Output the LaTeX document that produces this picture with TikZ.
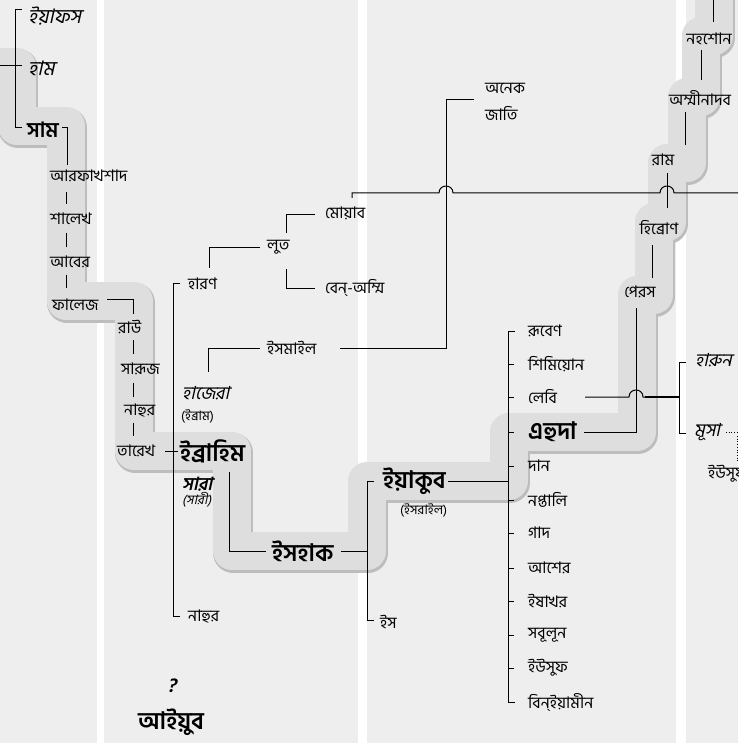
\documentclass[tikz,border=0pt]{standalone}
\usepackage{fontspec}
\setmainfont{Hind Siliguri}[Script=Bengali]
\newfontfamily\bnit{Hind Siliguri}[Script=Bengali,FakeSlant=0.22]
\definecolor{bgc}{gray}{0.935}
\definecolor{bandc}{gray}{0.87}
\definecolor{bande}{gray}{0.74}
\newcommand{\fsn}{\fontsize{16}{18}\selectfont}
\newcommand{\fsb}{\fontsize{24}{27}\selectfont\bfseries}
\newcommand{\fss}{\fontsize{13}{15}\selectfont}
\newcommand{\fsm}{\fontsize{18}{20}\selectfont}
\newcommand{\fsl}{\fontsize{20}{22}\selectfont}
\tikzset{
  lbl/.style={inner sep=0pt, anchor=west, font=\fsn},
  big/.style={inner sep=0pt, anchor=west, font=\fsb},
  sml/.style={inner sep=0pt, anchor=west, font=\fss},
  itl/.style={inner sep=0pt, anchor=west, font=\fsm\bnit},
  ctr/.style={inner sep=0pt, font=\fsn},
  ln/.style={draw=black, line width=1pt},
  bandpath/.style={line width=38pt, line join=round, draw=bandc},
}
\begin{document}
\begin{tikzpicture}[x=1pt,y=-1pt]
\useasboundingbox (0,0) rectangle (738,743);
\fill[bgc] (0,0) rectangle (738,743);
\fill[white] (97,0) rectangle (104,743);
\fill[white] (358,0) rectangle (367,743);
\fill[white] (676,0) rectangle (686,743);
\clip (0,0) rectangle (738,743);
% lineage band
\draw[line width=40pt, line join=round, draw=bande, shift={(1.2,1.6)}]
 (-30,67) -- (17,67) -- (17,126) -- (66,126) -- (66,301) -- (134,301) -- (134,451) -- (232,451) -- (232,551) -- (367,551) -- (367,481) -- (509,481) -- (509,432) -- (637,432) -- (637,295) -- (654,295) -- (654,222) -- (667,222) -- (667,163) -- (687,163) -- (687,97) -- (701,97) -- (701,36) -- (714,36) -- (714,-30);
\draw[bandpath]
 (-30,67) -- (17,67) -- (17,126) -- (66,126) -- (66,301) -- (134,301) -- (134,451) -- (232,451) -- (232,551) -- (367,551) -- (367,481) -- (509,481) -- (509,432) -- (637,432) -- (637,295) -- (654,295) -- (654,222) -- (667,222) -- (667,163) -- (687,163) -- (687,97) -- (701,97) -- (701,36) -- (714,36) -- (714,-30);

% left lineage
\node[itl,font=\fsl\bnit] (yafes) at (28,16) {ইয়াফস};
\node[itl,font=\fsl\bnit] (ham) at (28,68) {হাম};
\node[big,font=\fontsize{21}{23}\selectfont\bfseries] (sam) at (27,130) {সাম};
\node[lbl] (arf) at (50,176) {আরফাখশাদ};
\node[lbl] (shalekh) at (50,219) {শালেখ};
\node[lbl] (aber) at (50,262) {আবের};
\node[lbl] (falej) at (52,305) {ফালেজ};
\node[lbl] (rau) at (118,327) {রাউ};
\node[lbl] (saruj) at (121,369) {সারূজ};
\node[lbl] (nahur) at (124,410) {নাহুর};
\node[lbl] (tarekh) at (117,451) {তারেখ};
\node[big] (ibrahim) at (180,451) {ইব্রাহিম};
\node[lbl] (haran) at (188,284) {হারণ};
\node[lbl] (lut) at (267,247) {লুত};
\node[lbl] (moab) at (325,213) {মোয়াব};
\node[lbl] (benammi) at (325,288) {বেন্‌-অম্মি};
\node[lbl] (ismail) at (267,348) {ইসমাইল};
\node[itl] (hajera) at (182,393) {হাজেরা};
\node[sml] (ibram) at (181,416) {(ইব্রাম)};
\node[itl,font=\fsm\bnit\bfseries] (sara) at (182,484) {সারা};
\node[sml,font=\fss\bnit] (sari) at (182,500) {(সারী)};
\node[lbl] (nahur2) at (188,616) {নাহুর};
\node[big] (ishak) at (272,551) {ইসহাক};
\node[big] (yakub) at (383,481) {ইয়াকুব};
\node[sml] (israil) at (400,510) {(ইসরাইল)};
\node[lbl] (is) at (380,622) {ইস};
\node[lbl] (anek) at (485,88) {অনেক};
\node[lbl] (jati) at (485,113) {জাতি};
\node[itl,font=\fontsize{20}{22}\selectfont\bnit\bfseries] (q) at (167,686) {?};
\node[big] (aiyub) at (138,722) {আইয়ুব};

% twelve sons
\node[lbl] (s1) at (528,331) {রূবেণ};
\node[lbl] (s2) at (528,364) {শিমিয়োন};
\node[lbl] (s3) at (528,397) {লেবি};
\node[big] (s4) at (528,432) {এহুদা};
\node[lbl] (s5) at (528,466) {দান};
\node[lbl] (s6) at (528,500) {নপ্তালি};
\node[lbl] (s7) at (528,533) {গাদ};
\node[lbl] (s8) at (528,568) {আশের};
\node[lbl] (s9) at (528,601) {ইষাখর};
\node[lbl] (s10) at (528,635) {সবূলূন};
\node[lbl] (s11) at (528,668) {ইউসুফ};
\node[lbl] (s12) at (528,702) {বিন্‌ইয়ামীন};

% right column
\node[ctr] (peres) at (640,292) {পেরস};
\node[ctr] (hebron) at (659,228) {হিব্রোণ};
\node[ctr] (ram) at (663,160) {রাম};
\node[ctr] (amminadab) at (700,98) {অম্মীনাদব};
\node[ctr] (nahshon) at (709,39) {নহশোন};
\node[itl] (harun) at (695,360) {হারুন};
\node[itl] (musa) at (694,432) {মূসা};
\node[lbl] (yusuf2) at (708,474) {ইউসুফ};

% connectors
\draw[ln] (22,10) -- (15,10) -- (15,128) -- (22,128);
\draw[ln] (0,66) -- (22,66);
\draw[ln] (62,128) -- (67,128) -- (67,165);
\draw[ln] (66,192) -- (66,204);
\draw[ln] (66,233) -- (66,247);
\draw[ln] (66,275) -- (66,288);
\draw[ln] (107,299) -- (133,299) -- (133,314);
\draw[ln] (133,340) -- (133,354);
\draw[ln] (133,383) -- (133,397);
\draw[ln] (133,423) -- (133,436);
\draw[ln] (165,451) -- (178,451);
\draw[ln] (180,283) -- (173,283) -- (173,616) -- (180,616);
\draw[ln] (209,268) -- (209,247) -- (260,247);
\draw[ln] (286,233) -- (286,215) -- (315,215);
\draw[ln] (286,269) -- (286,288) -- (315,288);
\draw[ln] (352,198) -- (352,193) -- (439,193) .. controls (439,183.7) and (453,183.7) .. (453,193) -- (660,193) .. controls (660,183.7) and (674,183.7) .. (674,193) -- (740,193);
\draw[ln] (340,348) -- (446,348) -- (446,100) -- (474,100);
\draw[ln] (208,372) -- (208,348) -- (260,348);
\draw[ln] (229,472) -- (229,551) -- (266,551);
\draw[ln] (341,551) -- (367,551);
\draw[ln] (374,481) -- (367,481) -- (367,620) -- (374,620);
\draw[ln] (448,481) -- (508,481);
\draw[ln] (515,331) -- (508,331) -- (508,702) -- (515,702);
\foreach \yy in {364,397,432,466,500,533,568,601,635,668} {\draw[ln] (508,\yy) -- (514,\yy);}
\draw[ln] (584,432) -- (636,432) -- (636,308);
\draw[ln] (585,397) -- (629,397) .. controls (629,387.7) and (643,387.7) .. (643,397) -- (679,397);
\draw[line width=1.6pt] (645,397) -- (679,397);
\draw[ln] (686,362) -- (679,362) -- (679,433) -- (686,433);
\draw[ln] (652,245) -- (652,278);
\draw[ln] (667,173) -- (667,208);
\draw[ln] (685,112) -- (685,145);
\draw[ln] (701,50) -- (701,80);
\draw[ln] (713,-2) -- (713,22);
\draw[line width=0.7pt, dotted] (726,432) -- (740,432);
\draw[line width=0.7pt, dotted] (737,436) -- (737,462);
\end{tikzpicture}
\end{document}
